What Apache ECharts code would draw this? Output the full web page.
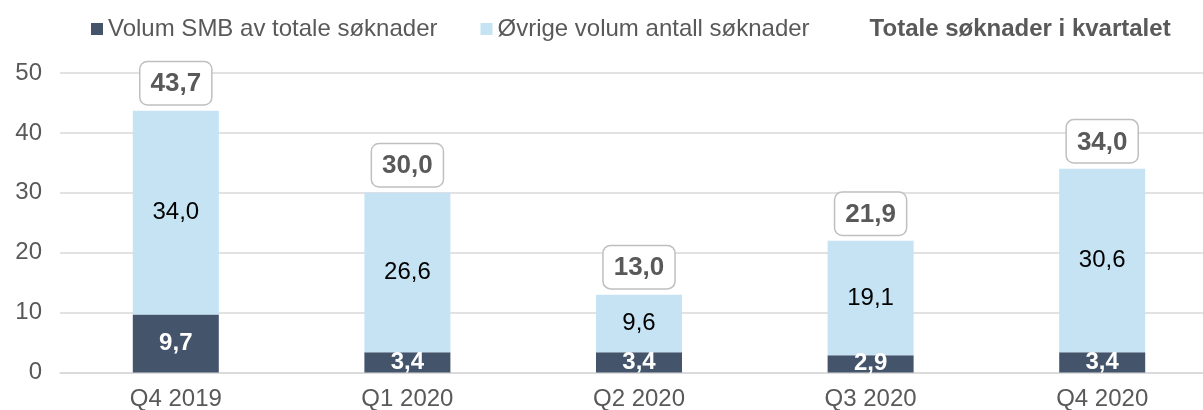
<!DOCTYPE html>
<html>
<head>
<meta charset="utf-8">
<script src="https://cdn.jsdelivr.net/npm/echarts@6/dist/echarts.min.js"></script>
<style>
  html, body { margin: 0; padding: 0; background: #fff; }
  #chart-container { width: 1203px; height: 410px; }
</style>
</head>
<body>
<div id="chart-container"></div>
<script>
// quarters and volumes (thousands)
var quarters = ['Q4 2019', 'Q1 2020', 'Q2 2020', 'Q3 2020', 'Q4 2020'];
var smbVolume = [9.7, 3.4, 3.4, 2.9, 3.4];
var otherVolume = [34.0, 26.6, 9.6, 19.1, 30.6];
var totalVolume = [43.7, 30.0, 13.0, 21.9, 34.0];

var seriesNames = ['Volum SMB av totale søknader', 'Øvrige volum antall søknader', 'Totale søknader i kvartalet'];

function comma(v) {
  return v.toFixed(1).replace('.', ',');
}

var dom = document.getElementById('chart-container');
var myChart = echarts.init(dom, null, {
  renderer: 'canvas',
  useDirtyRect: false
});

var font = 'Liberation Sans, Arial, sans-serif';

var option = {
  animation: false,
  textStyle: { fontFamily: font },
  legend: {
    left: 86,
    top: 12,
    itemWidth: 12,
    itemHeight: 12,
    itemGap: 43,
    textStyle: { fontFamily: font, fontSize: 24, color: '#595959' },
    data: [
      { name: seriesNames[0], icon: 'rect' },
      { name: seriesNames[1], icon: 'rect' },
      { name: seriesNames[2], icon: 'none', textStyle: { fontWeight: 'bold' } }
    ]
  },
  grid: {
    left: 60,
    right: -15,
    top: 73,
    bottom: 37.5,
    outerBoundsMode: 'none'
  },
  xAxis: {
    type: 'category',
    data: quarters,
    axisLine: { lineStyle: { color: '#d9d9d9', width: 1.5 } },
    axisTick: { show: false },
    axisLabel: { fontFamily: font, fontSize: 24, color: '#595959', margin: 15 }
  },
  yAxis: {
    type: 'value',
    min: 0,
    max: 50,
    interval: 10,
    axisLine: { show: false },
    axisTick: { show: false },
    splitLine: { lineStyle: { color: '#d9d9d9', width: 1.5 } },
    axisLabel: { fontFamily: font, fontSize: 24, color: '#595959', margin: 18 }
  },
  series: [
    {
      name: seriesNames[0],
      type: 'bar',
      stack: 'vol',
      barWidth: 86,
      data: smbVolume,
      itemStyle: { color: '#44546a' },
      label: {
        show: true,
        position: 'inside',
        color: '#fff',
        fontWeight: 'bold',
        fontSize: 24,
        formatter: function (p) { return comma(p.value); }
      }
    },
    {
      name: seriesNames[1],
      type: 'bar',
      stack: 'vol',
      barWidth: 86,
      data: otherVolume,
      itemStyle: { color: '#c5e3f3' },
      label: {
        show: true,
        position: 'inside',
        color: '#000',
        fontSize: 24,
        formatter: function (p) { return comma(p.value); }
      }
    },
    {
      name: seriesNames[2],
      type: 'line',
      data: totalVolume,
      symbol: 'circle',
      symbolSize: 1,
      showSymbol: true,
      itemStyle: { color: 'rgba(0,0,0,0)' },
      lineStyle: { width: 0, color: 'rgba(0,0,0,0)' },
      z: 5,
      label: {
        show: true,
        position: 'top',
        distance: 6,
        color: '#595959',
        fontWeight: 'bold',
        fontSize: 26,
        lineHeight: 28,
        backgroundColor: '#fff',
        borderColor: '#bfbfbf',
        borderWidth: 1.5,
        borderRadius: 7,
        padding: [8, 10, 6, 10],
        formatter: function (p) { return comma(p.value); }
      }
    }
  ]
};

if (option && typeof option === 'object') {
  myChart.setOption(option);
}

window.addEventListener('resize', myChart.resize);
</script>
</body>
</html>
